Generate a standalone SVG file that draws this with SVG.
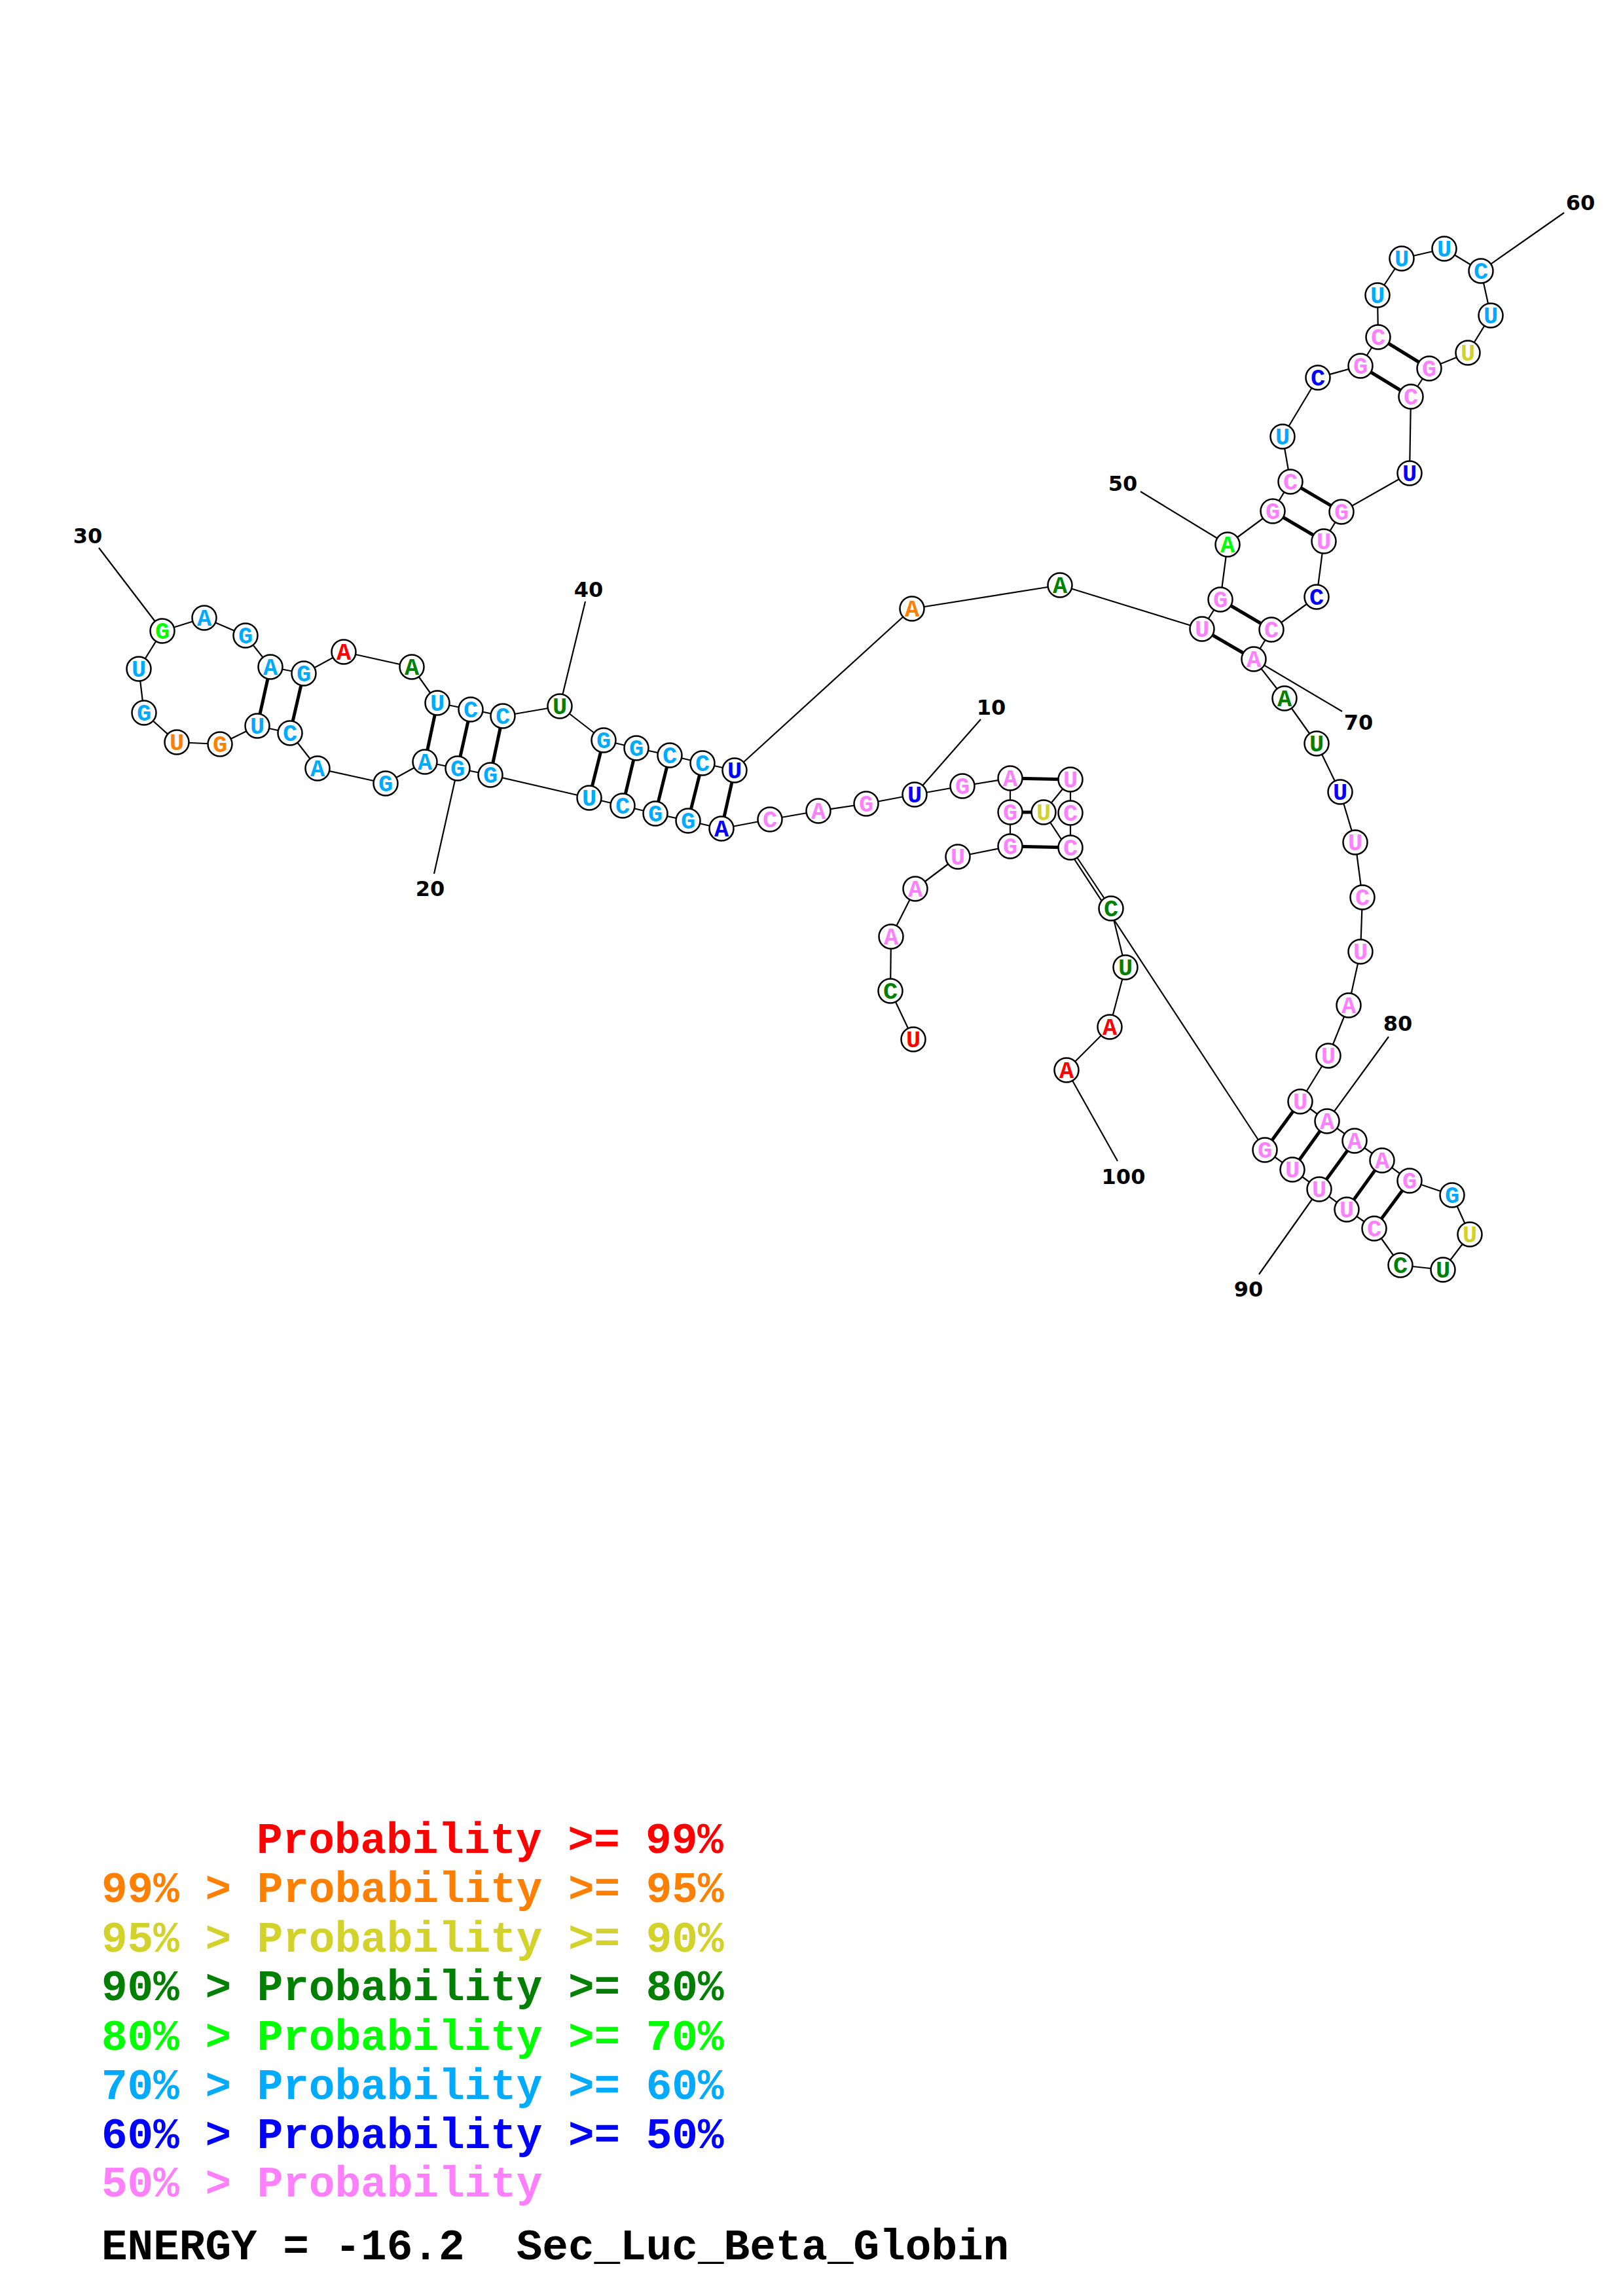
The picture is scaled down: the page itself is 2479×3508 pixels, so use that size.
<svg xmlns="http://www.w3.org/2000/svg" width="2479" height="3508" viewBox="0 0 2479 3508">
<style>
.bb{stroke:#000;stroke-width:2.2;fill:none}
.pr{stroke:#000;stroke-width:5;fill:none}
.tk{stroke:#000;stroke-width:2.2;fill:none}
.nc{fill:#fff;stroke:#000;stroke-width:2.5}
.nt{font-family:"Liberation Mono","Courier New",monospace;font-weight:bold;font-size:37px;text-anchor:middle}
.lb{font-family:"DejaVu Sans","Liberation Sans",sans-serif;font-weight:bold;font-size:32px;text-anchor:middle;fill:#000}
.lg{font-family:"Liberation Mono","Courier New",monospace;font-weight:bold;font-size:66px}
.r{fill:#FF0000}.o{fill:#FF8000}.y{fill:#D2D22A}.dg{fill:#008000}.g{fill:#00FF00}.lt{fill:#00AAFF}.b{fill:#0000FF}.p{fill:#FF80FF}.k{fill:#000}
</style>
<rect width="2479" height="3508" fill="#fff"/>
<g id="connectors">
<line class="bb" x1="1395" y1="1588" x2="1360" y2="1514"/>
<line class="bb" x1="1360" y1="1514" x2="1361" y2="1431"/>
<line class="bb" x1="1361" y1="1431" x2="1398" y2="1358"/>
<line class="bb" x1="1398" y1="1358" x2="1463" y2="1309"/>
<line class="bb" x1="1463" y1="1309" x2="1543" y2="1293"/>
<line class="bb" x1="1543" y1="1293" x2="1543" y2="1241"/>
<line class="bb" x1="1543" y1="1241" x2="1543" y2="1189"/>
<line class="bb" x1="1543" y1="1189" x2="1470" y2="1201"/>
<line class="bb" x1="1470" y1="1201" x2="1397" y2="1214"/>
<line class="bb" x1="1397" y1="1214" x2="1323" y2="1228"/>
<line class="bb" x1="1323" y1="1228" x2="1250" y2="1239"/>
<line class="bb" x1="1250" y1="1239" x2="1176" y2="1252"/>
<line class="bb" x1="1176" y1="1252" x2="1102" y2="1266"/>
<line class="bb" x1="1102" y1="1266" x2="1051" y2="1254"/>
<line class="bb" x1="1051" y1="1254" x2="1001" y2="1243"/>
<line class="bb" x1="1001" y1="1243" x2="951" y2="1231"/>
<line class="bb" x1="951" y1="1231" x2="900" y2="1219"/>
<line class="bb" x1="900" y1="1219" x2="749" y2="1184"/>
<line class="bb" x1="749" y1="1184" x2="699" y2="1174"/>
<line class="bb" x1="699" y1="1174" x2="649" y2="1164"/>
<line class="bb" x1="649" y1="1164" x2="589" y2="1197"/>
<line class="bb" x1="589" y1="1197" x2="485" y2="1174"/>
<line class="bb" x1="485" y1="1174" x2="443" y2="1120"/>
<line class="bb" x1="443" y1="1120" x2="393" y2="1109"/>
<line class="bb" x1="393" y1="1109" x2="336" y2="1137"/>
<line class="bb" x1="336" y1="1137" x2="270" y2="1134"/>
<line class="bb" x1="270" y1="1134" x2="220" y2="1089"/>
<line class="bb" x1="220" y1="1089" x2="212" y2="1022"/>
<line class="bb" x1="212" y1="1022" x2="248" y2="964"/>
<line class="bb" x1="248" y1="964" x2="312" y2="944"/>
<line class="bb" x1="312" y1="944" x2="375" y2="971"/>
<line class="bb" x1="375" y1="971" x2="413" y2="1019"/>
<line class="bb" x1="413" y1="1019" x2="464" y2="1029"/>
<line class="bb" x1="464" y1="1029" x2="525" y2="996"/>
<line class="bb" x1="525" y1="996" x2="629" y2="1019"/>
<line class="bb" x1="629" y1="1019" x2="668" y2="1074"/>
<line class="bb" x1="668" y1="1074" x2="719" y2="1084"/>
<line class="bb" x1="719" y1="1084" x2="768" y2="1094"/>
<line class="bb" x1="768" y1="1094" x2="855" y2="1079"/>
<line class="bb" x1="855" y1="1079" x2="922" y2="1131"/>
<line class="bb" x1="922" y1="1131" x2="972" y2="1143"/>
<line class="bb" x1="972" y1="1143" x2="1023" y2="1154"/>
<line class="bb" x1="1023" y1="1154" x2="1073" y2="1166"/>
<line class="bb" x1="1073" y1="1166" x2="1122" y2="1177"/>
<line class="bb" x1="1122" y1="1177" x2="1393" y2="930"/>
<line class="bb" x1="1393" y1="930" x2="1619" y2="894"/>
<line class="bb" x1="1619" y1="894" x2="1836" y2="961"/>
<line class="bb" x1="1836" y1="961" x2="1864" y2="916"/>
<line class="bb" x1="1864" y1="916" x2="1875" y2="832"/>
<line class="bb" x1="1875" y1="832" x2="1944" y2="781"/>
<line class="bb" x1="1944" y1="781" x2="1971" y2="736"/>
<line class="bb" x1="1971" y1="736" x2="1959" y2="667"/>
<line class="bb" x1="1959" y1="667" x2="2013" y2="577"/>
<line class="bb" x1="2013" y1="577" x2="2078" y2="559"/>
<line class="bb" x1="2078" y1="559" x2="2105" y2="515"/>
<line class="bb" x1="2105" y1="515" x2="2104" y2="451"/>
<line class="bb" x1="2104" y1="451" x2="2141" y2="395"/>
<line class="bb" x1="2141" y1="395" x2="2206" y2="380"/>
<line class="bb" x1="2206" y1="380" x2="2262" y2="414"/>
<line class="bb" x1="2262" y1="414" x2="2277" y2="482"/>
<line class="bb" x1="2277" y1="482" x2="2242" y2="539"/>
<line class="bb" x1="2242" y1="539" x2="2183" y2="563"/>
<line class="bb" x1="2183" y1="563" x2="2155" y2="606"/>
<line class="bb" x1="2155" y1="606" x2="2153" y2="723"/>
<line class="bb" x1="2153" y1="723" x2="2049" y2="782"/>
<line class="bb" x1="2049" y1="782" x2="2022" y2="827"/>
<line class="bb" x1="2022" y1="827" x2="2011" y2="912"/>
<line class="bb" x1="2011" y1="912" x2="1942" y2="962"/>
<line class="bb" x1="1942" y1="962" x2="1915" y2="1007"/>
<line class="bb" x1="1915" y1="1007" x2="1962" y2="1067"/>
<line class="bb" x1="1962" y1="1067" x2="2011" y2="1136"/>
<line class="bb" x1="2011" y1="1136" x2="2047" y2="1210"/>
<line class="bb" x1="2047" y1="1210" x2="2070" y2="1287"/>
<line class="bb" x1="2070" y1="1287" x2="2081" y2="1371"/>
<line class="bb" x1="2081" y1="1371" x2="2078" y2="1454"/>
<line class="bb" x1="2078" y1="1454" x2="2060" y2="1536"/>
<line class="bb" x1="2060" y1="1536" x2="2029" y2="1613"/>
<line class="bb" x1="2029" y1="1613" x2="1986" y2="1683"/>
<line class="bb" x1="1986" y1="1683" x2="2027" y2="1713"/>
<line class="bb" x1="2027" y1="1713" x2="2069" y2="1743"/>
<line class="bb" x1="2069" y1="1743" x2="2111" y2="1773"/>
<line class="bb" x1="2111" y1="1773" x2="2153" y2="1804"/>
<line class="bb" x1="2153" y1="1804" x2="2218" y2="1826"/>
<line class="bb" x1="2218" y1="1826" x2="2245" y2="1886"/>
<line class="bb" x1="2245" y1="1886" x2="2204" y2="1940"/>
<line class="bb" x1="2204" y1="1940" x2="2139" y2="1933"/>
<line class="bb" x1="2139" y1="1933" x2="2099" y2="1877"/>
<line class="bb" x1="2099" y1="1877" x2="2057" y2="1848"/>
<line class="bb" x1="2057" y1="1848" x2="2015" y2="1817"/>
<line class="bb" x1="2015" y1="1817" x2="1974" y2="1787"/>
<line class="bb" x1="1974" y1="1787" x2="1932" y2="1757"/>
<line class="bb" x1="1932" y1="1757" x2="1594" y2="1241"/>
<line class="bb" x1="1594" y1="1241" x2="1635" y2="1191"/>
<line class="bb" x1="1635" y1="1191" x2="1635" y2="1242"/>
<line class="bb" x1="1635" y1="1242" x2="1635" y2="1295"/>
<line class="bb" x1="1635" y1="1295" x2="1697" y2="1388"/>
<line class="bb" x1="1697" y1="1388" x2="1719" y2="1478"/>
<line class="bb" x1="1719" y1="1478" x2="1695" y2="1569"/>
<line class="bb" x1="1695" y1="1569" x2="1629" y2="1635"/>
<!-- base pairs -->
<line class="pr" x1="1102" y1="1266" x2="1122" y2="1177"/>
<line class="pr" x1="1051" y1="1254" x2="1073" y2="1166"/>
<line class="pr" x1="1001" y1="1243" x2="1023" y2="1154"/>
<line class="pr" x1="951" y1="1231" x2="972" y2="1143"/>
<line class="pr" x1="900" y1="1219" x2="922" y2="1131"/>
<line class="pr" x1="749" y1="1184" x2="768" y2="1094"/>
<line class="pr" x1="699" y1="1174" x2="719" y2="1084"/>
<line class="pr" x1="649" y1="1164" x2="668" y2="1074"/>
<line class="pr" x1="443" y1="1120" x2="464" y2="1029"/>
<line class="pr" x1="393" y1="1109" x2="413" y2="1019"/>
<line class="pr" x1="1836" y1="961" x2="1915" y2="1007"/>
<line class="pr" x1="1864" y1="916" x2="1942" y2="962"/>
<line class="pr" x1="1944" y1="781" x2="2022" y2="827"/>
<line class="pr" x1="1971" y1="736" x2="2049" y2="782"/>
<line class="pr" x1="2078" y1="559" x2="2155" y2="606"/>
<line class="pr" x1="2105" y1="515" x2="2183" y2="563"/>
<line class="pr" x1="1986" y1="1683" x2="1932" y2="1757"/>
<line class="pr" x1="2027" y1="1713" x2="1974" y2="1787"/>
<line class="pr" x1="2069" y1="1743" x2="2015" y2="1817"/>
<line class="pr" x1="2111" y1="1773" x2="2057" y2="1848"/>
<line class="pr" x1="2153" y1="1804" x2="2099" y2="1877"/>
<line class="pr" x1="1543" y1="1189" x2="1635" y2="1191"/>
<line class="pr" x1="1543" y1="1241" x2="1594" y2="1241"/>
<line class="pr" x1="1543" y1="1293" x2="1635" y2="1295"/>
<!-- index ticks -->
<line class="tk" x1="1498" y1="1099" x2="1397" y2="1214"/>
<line class="tk" x1="663" y1="1335" x2="699" y2="1174"/>
<line class="tk" x1="151" y1="837" x2="248" y2="964"/>
<line class="tk" x1="894" y1="919" x2="855" y2="1079"/>
<line class="tk" x1="1742" y1="751" x2="1875" y2="832"/>
<line class="tk" x1="2389" y1="325" x2="2262" y2="414"/>
<line class="tk" x1="2050" y1="1087" x2="1915" y2="1007"/>
<line class="tk" x1="2121" y1="1584" x2="2027" y2="1713"/>
<line class="tk" x1="1923" y1="1947" x2="2015" y2="1817"/>
<line class="tk" x1="1707" y1="1774" x2="1629" y2="1635"/>
</g>
<g id="index-labels">
<text class="lb" x="1514" y="1092">10</text>
<text class="lb" x="657" y="1369">20</text>
<text class="lb" x="134" y="830">30</text>
<text class="lb" x="899" y="912">40</text>
<text class="lb" x="1715" y="750">50</text>
<text class="lb" x="2414" y="321">60</text>
<text class="lb" x="2075" y="1115">70</text>
<text class="lb" x="2135" y="1575">80</text>
<text class="lb" x="1907" y="1981">90</text>
<text class="lb" x="1716" y="1809">100</text>
</g>
<g id="n1"><circle class="nc" cx="1395" cy="1588" r="18.5"/><text class="nt r" x="1395" y="1600">U</text></g>
<g id="n2"><circle class="nc" cx="1360" cy="1514" r="18.5"/><text class="nt dg" x="1360" y="1526">C</text></g>
<g id="n3"><circle class="nc" cx="1361" cy="1431" r="18.5"/><text class="nt p" x="1361" y="1443">A</text></g>
<g id="n4"><circle class="nc" cx="1398" cy="1358" r="18.5"/><text class="nt p" x="1398" y="1370">A</text></g>
<g id="n5"><circle class="nc" cx="1463" cy="1309" r="18.5"/><text class="nt p" x="1463" y="1321">U</text></g>
<g id="n6"><circle class="nc" cx="1543" cy="1293" r="18.5"/><text class="nt p" x="1543" y="1305">G</text></g>
<g id="n7"><circle class="nc" cx="1543" cy="1241" r="18.5"/><text class="nt p" x="1543" y="1253">G</text></g>
<g id="n8"><circle class="nc" cx="1543" cy="1189" r="18.5"/><text class="nt p" x="1543" y="1201">A</text></g>
<g id="n9"><circle class="nc" cx="1470" cy="1201" r="18.5"/><text class="nt p" x="1470" y="1213">G</text></g>
<g id="n10"><circle class="nc" cx="1397" cy="1214" r="18.5"/><text class="nt b" x="1397" y="1226">U</text></g>
<g id="n11"><circle class="nc" cx="1323" cy="1228" r="18.5"/><text class="nt p" x="1323" y="1240">G</text></g>
<g id="n12"><circle class="nc" cx="1250" cy="1239" r="18.5"/><text class="nt p" x="1250" y="1251">A</text></g>
<g id="n13"><circle class="nc" cx="1176" cy="1252" r="18.5"/><text class="nt p" x="1176" y="1264">C</text></g>
<g id="n14"><circle class="nc" cx="1102" cy="1266" r="18.5"/><text class="nt b" x="1102" y="1278">A</text></g>
<g id="n15"><circle class="nc" cx="1051" cy="1254" r="18.5"/><text class="nt lt" x="1051" y="1266">G</text></g>
<g id="n16"><circle class="nc" cx="1001" cy="1243" r="18.5"/><text class="nt lt" x="1001" y="1255">G</text></g>
<g id="n17"><circle class="nc" cx="951" cy="1231" r="18.5"/><text class="nt lt" x="951" y="1243">C</text></g>
<g id="n18"><circle class="nc" cx="900" cy="1219" r="18.5"/><text class="nt lt" x="900" y="1231">U</text></g>
<g id="n19"><circle class="nc" cx="749" cy="1184" r="18.5"/><text class="nt lt" x="749" y="1196">G</text></g>
<g id="n20"><circle class="nc" cx="699" cy="1174" r="18.5"/><text class="nt lt" x="699" y="1186">G</text></g>
<g id="n21"><circle class="nc" cx="649" cy="1164" r="18.5"/><text class="nt lt" x="649" y="1176">A</text></g>
<g id="n22"><circle class="nc" cx="589" cy="1197" r="18.5"/><text class="nt lt" x="589" y="1209">G</text></g>
<g id="n23"><circle class="nc" cx="485" cy="1174" r="18.5"/><text class="nt lt" x="485" y="1186">A</text></g>
<g id="n24"><circle class="nc" cx="443" cy="1120" r="18.5"/><text class="nt lt" x="443" y="1132">C</text></g>
<g id="n25"><circle class="nc" cx="393" cy="1109" r="18.5"/><text class="nt lt" x="393" y="1121">U</text></g>
<g id="n26"><circle class="nc" cx="336" cy="1137" r="18.5"/><text class="nt o" x="336" y="1149">G</text></g>
<g id="n27"><circle class="nc" cx="270" cy="1134" r="18.5"/><text class="nt o" x="270" y="1146">U</text></g>
<g id="n28"><circle class="nc" cx="220" cy="1089" r="18.5"/><text class="nt lt" x="220" y="1101">G</text></g>
<g id="n29"><circle class="nc" cx="212" cy="1022" r="18.5"/><text class="nt lt" x="212" y="1034">U</text></g>
<g id="n30"><circle class="nc" cx="248" cy="964" r="18.5"/><text class="nt g" x="248" y="976">G</text></g>
<g id="n31"><circle class="nc" cx="312" cy="944" r="18.5"/><text class="nt lt" x="312" y="956">A</text></g>
<g id="n32"><circle class="nc" cx="375" cy="971" r="18.5"/><text class="nt lt" x="375" y="983">G</text></g>
<g id="n33"><circle class="nc" cx="413" cy="1019" r="18.5"/><text class="nt lt" x="413" y="1031">A</text></g>
<g id="n34"><circle class="nc" cx="464" cy="1029" r="18.5"/><text class="nt lt" x="464" y="1041">G</text></g>
<g id="n35"><circle class="nc" cx="525" cy="996" r="18.5"/><text class="nt r" x="525" y="1008">A</text></g>
<g id="n36"><circle class="nc" cx="629" cy="1019" r="18.5"/><text class="nt dg" x="629" y="1031">A</text></g>
<g id="n37"><circle class="nc" cx="668" cy="1074" r="18.5"/><text class="nt lt" x="668" y="1086">U</text></g>
<g id="n38"><circle class="nc" cx="719" cy="1084" r="18.5"/><text class="nt lt" x="719" y="1096">C</text></g>
<g id="n39"><circle class="nc" cx="768" cy="1094" r="18.5"/><text class="nt lt" x="768" y="1106">C</text></g>
<g id="n40"><circle class="nc" cx="855" cy="1079" r="18.5"/><text class="nt dg" x="855" y="1091">U</text></g>
<g id="n41"><circle class="nc" cx="922" cy="1131" r="18.5"/><text class="nt lt" x="922" y="1143">G</text></g>
<g id="n42"><circle class="nc" cx="972" cy="1143" r="18.5"/><text class="nt lt" x="972" y="1155">G</text></g>
<g id="n43"><circle class="nc" cx="1023" cy="1154" r="18.5"/><text class="nt lt" x="1023" y="1166">C</text></g>
<g id="n44"><circle class="nc" cx="1073" cy="1166" r="18.5"/><text class="nt lt" x="1073" y="1178">C</text></g>
<g id="n45"><circle class="nc" cx="1122" cy="1177" r="18.5"/><text class="nt b" x="1122" y="1189">U</text></g>
<g id="n46"><circle class="nc" cx="1393" cy="930" r="18.5"/><text class="nt o" x="1393" y="942">A</text></g>
<g id="n47"><circle class="nc" cx="1619" cy="894" r="18.5"/><text class="nt dg" x="1619" y="906">A</text></g>
<g id="n48"><circle class="nc" cx="1836" cy="961" r="18.5"/><text class="nt p" x="1836" y="973">U</text></g>
<g id="n49"><circle class="nc" cx="1864" cy="916" r="18.5"/><text class="nt p" x="1864" y="928">G</text></g>
<g id="n50"><circle class="nc" cx="1875" cy="832" r="18.5"/><text class="nt g" x="1875" y="844">A</text></g>
<g id="n51"><circle class="nc" cx="1944" cy="781" r="18.5"/><text class="nt p" x="1944" y="793">G</text></g>
<g id="n52"><circle class="nc" cx="1971" cy="736" r="18.5"/><text class="nt p" x="1971" y="748">C</text></g>
<g id="n53"><circle class="nc" cx="1959" cy="667" r="18.5"/><text class="nt lt" x="1959" y="679">U</text></g>
<g id="n54"><circle class="nc" cx="2013" cy="577" r="18.5"/><text class="nt b" x="2013" y="589">C</text></g>
<g id="n55"><circle class="nc" cx="2078" cy="559" r="18.5"/><text class="nt p" x="2078" y="571">G</text></g>
<g id="n56"><circle class="nc" cx="2105" cy="515" r="18.5"/><text class="nt p" x="2105" y="527">C</text></g>
<g id="n57"><circle class="nc" cx="2104" cy="451" r="18.5"/><text class="nt lt" x="2104" y="463">U</text></g>
<g id="n58"><circle class="nc" cx="2141" cy="395" r="18.5"/><text class="nt lt" x="2141" y="407">U</text></g>
<g id="n59"><circle class="nc" cx="2206" cy="380" r="18.5"/><text class="nt lt" x="2206" y="392">U</text></g>
<g id="n60"><circle class="nc" cx="2262" cy="414" r="18.5"/><text class="nt lt" x="2262" y="426">C</text></g>
<g id="n61"><circle class="nc" cx="2277" cy="482" r="18.5"/><text class="nt lt" x="2277" y="494">U</text></g>
<g id="n62"><circle class="nc" cx="2242" cy="539" r="18.5"/><text class="nt y" x="2242" y="551">U</text></g>
<g id="n63"><circle class="nc" cx="2183" cy="563" r="18.5"/><text class="nt p" x="2183" y="575">G</text></g>
<g id="n64"><circle class="nc" cx="2155" cy="606" r="18.5"/><text class="nt p" x="2155" y="618">C</text></g>
<g id="n65"><circle class="nc" cx="2153" cy="723" r="18.5"/><text class="nt b" x="2153" y="735">U</text></g>
<g id="n66"><circle class="nc" cx="2049" cy="782" r="18.5"/><text class="nt p" x="2049" y="794">G</text></g>
<g id="n67"><circle class="nc" cx="2022" cy="827" r="18.5"/><text class="nt p" x="2022" y="839">U</text></g>
<g id="n68"><circle class="nc" cx="2011" cy="912" r="18.5"/><text class="nt b" x="2011" y="924">C</text></g>
<g id="n69"><circle class="nc" cx="1942" cy="962" r="18.5"/><text class="nt p" x="1942" y="974">C</text></g>
<g id="n70"><circle class="nc" cx="1915" cy="1007" r="18.5"/><text class="nt p" x="1915" y="1019">A</text></g>
<g id="n71"><circle class="nc" cx="1962" cy="1067" r="18.5"/><text class="nt dg" x="1962" y="1079">A</text></g>
<g id="n72"><circle class="nc" cx="2011" cy="1136" r="18.5"/><text class="nt dg" x="2011" y="1148">U</text></g>
<g id="n73"><circle class="nc" cx="2047" cy="1210" r="18.5"/><text class="nt b" x="2047" y="1222">U</text></g>
<g id="n74"><circle class="nc" cx="2070" cy="1287" r="18.5"/><text class="nt p" x="2070" y="1299">U</text></g>
<g id="n75"><circle class="nc" cx="2081" cy="1371" r="18.5"/><text class="nt p" x="2081" y="1383">C</text></g>
<g id="n76"><circle class="nc" cx="2078" cy="1454" r="18.5"/><text class="nt p" x="2078" y="1466">U</text></g>
<g id="n77"><circle class="nc" cx="2060" cy="1536" r="18.5"/><text class="nt p" x="2060" y="1548">A</text></g>
<g id="n78"><circle class="nc" cx="2029" cy="1613" r="18.5"/><text class="nt p" x="2029" y="1625">U</text></g>
<g id="n79"><circle class="nc" cx="1986" cy="1683" r="18.5"/><text class="nt p" x="1986" y="1695">U</text></g>
<g id="n80"><circle class="nc" cx="2027" cy="1713" r="18.5"/><text class="nt p" x="2027" y="1725">A</text></g>
<g id="n81"><circle class="nc" cx="2069" cy="1743" r="18.5"/><text class="nt p" x="2069" y="1755">A</text></g>
<g id="n82"><circle class="nc" cx="2111" cy="1773" r="18.5"/><text class="nt p" x="2111" y="1785">A</text></g>
<g id="n83"><circle class="nc" cx="2153" cy="1804" r="18.5"/><text class="nt p" x="2153" y="1816">G</text></g>
<g id="n84"><circle class="nc" cx="2218" cy="1826" r="18.5"/><text class="nt lt" x="2218" y="1838">G</text></g>
<g id="n85"><circle class="nc" cx="2245" cy="1886" r="18.5"/><text class="nt y" x="2245" y="1898">U</text></g>
<g id="n86"><circle class="nc" cx="2204" cy="1940" r="18.5"/><text class="nt dg" x="2204" y="1952">U</text></g>
<g id="n87"><circle class="nc" cx="2139" cy="1933" r="18.5"/><text class="nt dg" x="2139" y="1945">C</text></g>
<g id="n88"><circle class="nc" cx="2099" cy="1877" r="18.5"/><text class="nt p" x="2099" y="1889">C</text></g>
<g id="n89"><circle class="nc" cx="2057" cy="1848" r="18.5"/><text class="nt p" x="2057" y="1860">U</text></g>
<g id="n90"><circle class="nc" cx="2015" cy="1817" r="18.5"/><text class="nt p" x="2015" y="1829">U</text></g>
<g id="n91"><circle class="nc" cx="1974" cy="1787" r="18.5"/><text class="nt p" x="1974" y="1799">U</text></g>
<g id="n92"><circle class="nc" cx="1932" cy="1757" r="18.5"/><text class="nt p" x="1932" y="1769">G</text></g>
<g id="n93"><circle class="nc" cx="1594" cy="1241" r="18.5"/><text class="nt y" x="1594" y="1253">U</text></g>
<g id="n94"><circle class="nc" cx="1635" cy="1191" r="18.5"/><text class="nt p" x="1635" y="1203">U</text></g>
<g id="n95"><circle class="nc" cx="1635" cy="1242" r="18.5"/><text class="nt p" x="1635" y="1254">C</text></g>
<g id="n96"><circle class="nc" cx="1635" cy="1295" r="18.5"/><text class="nt p" x="1635" y="1307">C</text></g>
<g id="n97"><circle class="nc" cx="1697" cy="1388" r="18.5"/><text class="nt dg" x="1697" y="1400">C</text></g>
<g id="n98"><circle class="nc" cx="1719" cy="1478" r="18.5"/><text class="nt dg" x="1719" y="1490">U</text></g>
<g id="n99"><circle class="nc" cx="1695" cy="1569" r="18.5"/><text class="nt r" x="1695" y="1581">A</text></g>
<g id="n100"><circle class="nc" cx="1629" cy="1635" r="18.5"/><text class="nt r" x="1629" y="1647">A</text></g>
<g id="legend">
<text class="lg r" x="392" y="2831">Probability &gt;= 99%</text>
<text class="lg o" x="155" y="2906" xml:space="preserve">99% &gt; Probability &gt;= 95%</text>
<text class="lg y" x="155" y="2982" xml:space="preserve">95% &gt; Probability &gt;= 90%</text>
<text class="lg dg" x="155" y="3056" xml:space="preserve">90% &gt; Probability &gt;= 80%</text>
<text class="lg g" x="155" y="3132" xml:space="preserve">80% &gt; Probability &gt;= 70%</text>
<text class="lg lt" x="155" y="3207" xml:space="preserve">70% &gt; Probability &gt;= 60%</text>
<text class="lg b" x="155" y="3282" xml:space="preserve">60% &gt; Probability &gt;= 50%</text>
<text class="lg p" x="155" y="3356" xml:space="preserve">50% &gt; Probability</text>
<text class="lg k" x="155" y="3452" xml:space="preserve">ENERGY = -16.2  Sec_Luc_Beta_Globin</text>
</g>
</svg>
